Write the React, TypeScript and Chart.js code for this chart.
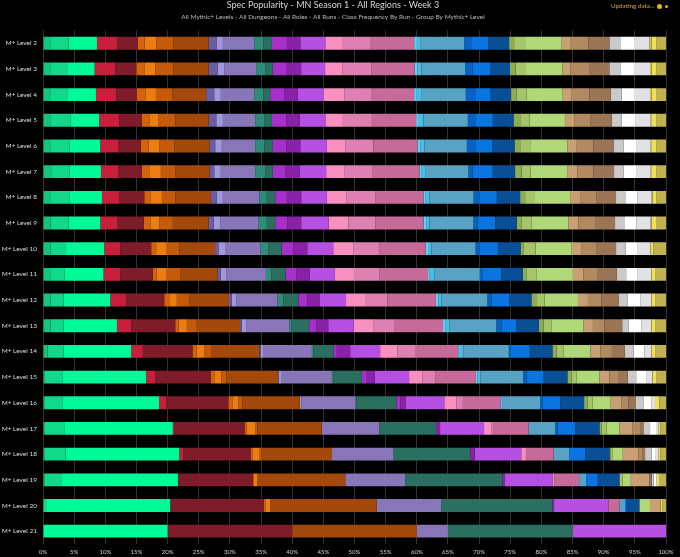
import React, { useEffect, useRef } from "react";
import { Chart, registerables } from "chart.js";

Chart.register(...registerables);

const levels = [
  "M+ Level 2", "M+ Level 3", "M+ Level 4", "M+ Level 5", "M+ Level 6",
  "M+ Level 7", "M+ Level 8", "M+ Level 9", "M+ Level 10", "M+ Level 11",
  "M+ Level 12", "M+ Level 13", "M+ Level 14", "M+ Level 15", "M+ Level 16",
  "M+ Level 17", "M+ Level 18", "M+ Level 19", "M+ Level 20", "M+ Level 21",
];

const titleText = "Spec Popularity - MN Season 1 - All Regions - Week 3";
const subtitleText =
  "All Mythic+ Levels - All Dungeons - All Roles - All Runs - Class Frequency By Run - Group By Mythic+ Level";

// Monk
const monkA = [1.28, 1.28, 1.28, 1.28, 1.28, 1.44, 1.28, 1.18, 1.18, 1.28, 1.18, 1.18, 0.75, 0.2, 0.2, 0.2, 0.2, 0.2, 0, 0];
const monkB = [2.83, 2.73, 2.73, 3.1, 2.94, 2.78, 2.94, 2.94, 2.51, 2.14, 2.14, 2.14, 2.57, 3.0, 3.0, 3.2, 3.4, 2.85, 0.64, 0];
const monkC = [4.55, 4.28, 4.49, 4.65, 4.97, 5.08, 5.24, 5.08, 6.15, 6.31, 7.49, 8.56, 10.86, 13.37, 15.45, 17.43, 18.29, 18.61, 19.79, 20];
// Death Knight
const dkA = [3.21, 3.32, 3.26, 3.21, 2.94, 2.83, 2.83, 2.78, 2.57, 2.67, 2.51, 2.3, 1.87, 1.44, 1.12, 0.21, 0.59, 0, 0, 0];
const dkB = [3.37, 3.37, 3.32, 3.64, 3.58, 3.74, 3.96, 4.17, 4.97, 5.24, 6.15, 7.06, 7.97, 8.93, 10.0, 11.28, 10.91, 11.98, 14.97, 20];
// Druid
const druidA = [1.07, 1.28, 1.34, 1.18, 1.23, 1.18, 0.96, 1.07, 0.8, 0.64, 0.8, 0.53, 0.7, 0.7, 0.64, 0.37, 0.3, 0.2, 0.37, 0];
const druidB = [1.87, 1.76, 1.71, 1.5, 1.71, 1.87, 1.87, 1.44, 1.71, 1.6, 1.23, 1.34, 1.18, 1.07, 0.96, 1.34, 1.1, 0.59, 0.7, 0];
const druidC = [2.78, 2.94, 2.67, 2.67, 2.41, 2.3, 2.14, 2.19, 2.03, 2.14, 1.98, 1.6, 1.23, 0.8, 0.64, 0.37, 0.27, 0, 0, 0];
const druidD = [5.61, 5.61, 5.4, 5.35, 5.67, 5.51, 5.72, 5.72, 5.72, 5.99, 6.42, 6.95, 7.65, 8.29, 9.25, 10.32, 11.34, 14.08, 17.11, 20];
// Warlock
const lockA = [1.34, 1.44, 1.28, 1.23, 0.91, 0.75, 0.96, 0.8, 0.53, 0.53, 0.43, 0.27, 0.2, 0.1, 0, 0, 0, 0, 0, 0];
const lockB = [0.96, 1.07, 1.07, 1.07, 1.07, 1.07, 0.96, 1.07, 1.07, 0.96, 0.7, 0.8, 0.5, 0.37, 0.27, 0, 0, 0, 0, 0];
const lockC = [5.03, 5.13, 5.35, 5.19, 5.35, 5.51, 5.88, 6.15, 5.72, 6.31, 6.63, 6.84, 7.75, 8.18, 8.72, 9.25, 9.89, 9.63, 10.32, 5];
// Evoker
const evokerA = [1.5, 1.44, 1.5, 1.5, 1.5, 1.6, 1.18, 1.34, 1.23, 0.91, 0.96, 0.37, 0.27, 0.27, 0.1, 0, 0, 0, 0, 0];
const evokerB = [1.34, 1.23, 1.07, 1.18, 1.34, 1.23, 1.34, 1.34, 2.14, 2.25, 2.41, 2.83, 3.21, 4.55, 6.42, 9.09, 12.3, 15.61, 17.86, 20];
// Demon Hunter
const dhA = [2.41, 2.25, 2.25, 2.3, 2.14, 1.98, 1.87, 1.98, 1.87, 1.76, 1.44, 1.18, 0.53, 0.8, 0.64, 0, 0, 0, 0, 0];
const dhB = [2.14, 2.3, 2.19, 2.14, 2.25, 2.3, 2.3, 2.19, 2.25, 2.14, 1.93, 1.87, 2.14, 1.23, 0.91, 0.64, 0.7, 0.32, 0.27, 0];
const dhC = [4.01, 3.85, 4.12, 4.12, 4.28, 4.28, 4.12, 4.39, 4.17, 4.01, 4.28, 4.12, 4.81, 5.56, 6.15, 7.06, 7.49, 7.7, 8.72, 15];
// Paladin
const palA = [2.83, 2.83, 3.32, 2.83, 2.94, 2.89, 3.1, 3.21, 3.21, 3.21, 3.05, 3.21, 2.78, 2.19, 1.93, 1.23, 0.75, 0.32, 0, 0];
const palB = [4.49, 4.65, 4.44, 4.65, 4.55, 4.6, 4.65, 4.28, 4.17, 3.9, 3.58, 3.37, 2.83, 2.09, 1.07, 0.2, 0, 0, 0, 0];
const palC = [6.95, 6.9, 6.79, 7.11, 7.06, 7.49, 7.75, 7.75, 7.49, 7.86, 7.81, 7.75, 6.95, 6.47, 6.1, 5.7, 4.44, 3.96, 1.76, 0];
// Mage
const mageA = [0.43, 0.43, 0.32, 0.43, 0.43, 0.27, 0.27, 0.43, 0.37, 0.27, 0.37, 0.43, 0.27, 0.27, 0, 0, 0, 0, 0, 0];
const mageB = [0.64, 0.64, 0.8, 0.75, 0.7, 0.64, 0.7, 0.53, 0.53, 0.8, 0.53, 0.64, 0.53, 0.48, 0.32, 0, 0, 0, 0, 0];
const mageC = [6.95, 7.01, 7.17, 7.11, 6.79, 6.95, 7.06, 7.06, 7.11, 7.22, 7.38, 7.49, 7.33, 6.84, 5.99, 4.28, 2.51, 1.12, 0.91, 0];
// Shaman
const shamA = [1.12, 1.23, 1.5, 1.18, 1.34, 0.7, 0.96, 0.7, 0.64, 0.53, 0.64, 0.8, 0.32, 0.53, 0.43, 0.37, 0, 0, 0, 0];
const shamB = [2.78, 2.78, 2.51, 2.83, 2.78, 3.21, 2.78, 2.78, 2.94, 2.94, 2.83, 2.41, 3.05, 2.78, 2.78, 2.83, 2.57, 1.87, 0.27, 0];
const shamC = [3.32, 3.21, 3.26, 3.32, 3.53, 3.58, 3.74, 3.48, 3.64, 3.48, 3.58, 3.64, 3.64, 3.8, 3.85, 3.9, 3.9, 3.48, 2.03, 0];
// Hunter
const huntA = [0.8, 0.91, 0.91, 1.07, 0.91, 1.07, 0.8, 0.8, 0.53, 0.64, 0.91, 0.75, 0.64, 0.64, 0.53, 0.37, 0.2, 0, 0, 0];
const huntB = [1.76, 1.66, 1.6, 1.5, 1.6, 1.44, 1.44, 1.6, 1.87, 1.5, 1.23, 1.23, 1.18, 0.8, 0.86, 0.8, 0.33, 0.53, 0, 0];
const huntC = [5.88, 5.83, 5.78, 5.72, 5.99, 5.94, 5.78, 5.88, 5.83, 5.88, 5.35, 5.19, 4.28, 3.74, 2.89, 2.03, 1.6, 1.18, 1.71, 0];
// Warrior
const warA = [1.34, 1.34, 1.34, 1.44, 1.5, 1.55, 1.6, 1.6, 1.5, 1.71, 1.6, 1.5, 1.6, 1.6, 1.76, 2.14, 2.5, 3.1, 1.71, 0];
const warB = [2.94, 2.94, 2.94, 2.67, 2.67, 2.57, 2.67, 2.67, 2.41, 2.3, 2.14, 1.87, 1.87, 1.5, 1.07, 1.18, 0.6, 0, 0, 0];
const warC = [3.37, 3.26, 3.42, 3.37, 3.21, 3.32, 3.1, 3.21, 3.21, 3.05, 2.83, 2.83, 2.03, 1.44, 1.23, 0.53, 0.48, 0.37, 0, 0];
// Priest
const priestA = [1.87, 1.87, 1.76, 1.6, 1.6, 1.5, 1.6, 1.6, 1.5, 1.5, 1.44, 1.07, 1.44, 1.34, 1.18, 1.07, 1.07, 0.3, 0, 0];
const priestB = [2.09, 2.09, 1.98, 2.14, 2.03, 2.03, 1.87, 1.87, 1.87, 1.87, 1.98, 1.98, 1.76, 1.71, 1.34, 0.96, 0.53, 0.5, 0, 0];
const priestC = [2.46, 2.57, 2.57, 2.51, 2.35, 2.35, 2.25, 2.25, 2.09, 2.14, 1.76, 1.6, 1.07, 0.86, 0.53, 0.37, 0.53, 0, 0, 0];
// Rogue
const rogueA = [0.37, 0.27, 0.27, 0.21, 0.21, 0.21, 0.16, 0.16, 0.1, 0.1, 0.1, 0.1, 0.1, 0.1, 0, 0, 0, 0, 0, 0];
const rogueB = [0.8, 0.8, 0.7, 0.75, 0.75, 0.75, 0.64, 0.7, 0.43, 0.53, 0.53, 0.53, 0.53, 0.53, 0.7, 0.3, 0.3, 0.5, 0.3, 0];
const rogueC = [1.5, 1.5, 1.6, 1.5, 1.5, 1.5, 1.5, 1.6, 2.03, 1.76, 1.76, 1.76, 1.76, 1.6, 1.07, 0.93, 0.93, 1.0, 0.56, 0];

const specSeries: [string, string, number[]][] = [
  ["Brewmaster", "#12c47d", monkA],
  ["Mistweaver", "#12d88c", monkB],
  ["Windwalker", "#00fa98", monkC],
  ["Frost DK", "#c8203c", dkA],
  ["Blood", "#7e1c2a", dkB],
  ["Balance", "#d2640e", druidA],
  ["Feral", "#ec7d12", druidB],
  ["Restoration Druid", "#c45a0c", druidC],
  ["Guardian", "#a2490b", druidD],
  ["Affliction", "#6b5ea0", lockA],
  ["Demonology", "#a097dc", lockB],
  ["Destruction", "#8777b8", lockC],
  ["Devastation", "#2f8c78", evokerA],
  ["Augmentation", "#2a6f60", evokerB],
  ["Havoc", "#a72fca", dhA],
  ["Devourer", "#8a22a8", dhB],
  ["Vengeance", "#b650e3", dhC],
  ["Retribution", "#f78fbf", palA],
  ["Holy Paladin", "#df80b2", palB],
  ["Protection Paladin", "#c66a9a", palC],
  ["Arcane", "#64d2f4", mageA],
  ["Fire", "#48bde6", mageB],
  ["Frost Mage", "#58a3c4", mageC],
  ["Elemental", "#0862c2", shamA],
  ["Enhancement", "#0a74df", shamB],
  ["Restoration Shaman", "#0a4e96", shamC],
  ["Survival", "#8eac52", huntA],
  ["Marksmanship", "#a6c46c", huntB],
  ["Beast Mastery", "#b0d878", huntC],
  ["Arms", "#c9a074", warA],
  ["Fury", "#b28a62", warB],
  ["Protection Warrior", "#9b7656", warC],
  ["Shadow", "#cacaca", priestA],
  ["Holy Priest", "#ffffff", priestB],
  ["Discipline", "#e2e2e6", priestC],
  ["Assassination", "#d2c44a", rogueA],
  ["Subtlety", "#ece05c", rogueB],
  ["Outlaw", "#c0b252", rogueC],
];

const FONT = "Lato, 'Open Sans', sans-serif";

export default function App() {
  const canvasRef = useRef<HTMLCanvasElement | null>(null);

  useEffect(() => {
    document.body.style.margin = "0";
    document.body.style.background = "#000";
    const canvas = canvasRef.current;
    if (!canvas) return;

    const totals = levels.map((_, i) =>
      specSeries.reduce((s, [, , arr]) => s + arr[i], 0)
    );

    const chart = new Chart(canvas, {
      type: "bar",
      data: {
        labels: levels,
        datasets: specSeries.map(([label, color, arr]) => ({
          label,
          data: arr.map((v, i) => (v / totals[i]) * 100),
          backgroundColor: color,
          borderWidth: 0,
          categoryPercentage: 1,
          barPercentage: 0.5,
        })),
      },
      options: {
        indexAxis: "y",
        responsive: false,
        animation: false,
        devicePixelRatio: 1,
        layout: { padding: { top: 0, right: 14, bottom: 0, left: 0 } },
        plugins: {
          legend: { display: false },
          tooltip: { enabled: false },
          title: {
            display: true,
            text: titleText,
            color: "#d6d6d6",
            font: { family: FONT, size: 9, weight: "normal" },
            padding: { top: 0, bottom: 2 },
          },
          subtitle: {
            display: true,
            text: subtitleText,
            color: "#bcbcbc",
            font: { family: FONT, size: 6.5, weight: "normal" },
            padding: { top: 0, bottom: 9.8 },
          },
        },
        scales: {
          x: {
            stacked: true,
            min: 0,
            max: 100,
            border: { display: false },
            grid: { color: "rgba(255,255,255,0.2)", drawTicks: false, lineWidth: 1 },
            ticks: {
              stepSize: 5,
              color: "#cfcfcf",
              padding: 4,
              maxRotation: 0,
              autoSkip: false,
              font: { family: FONT, size: 6 },
              callback: (v: any) => v + "%",
            },
            afterFit: (scale: any) => {
              scale.height = 13;
              scale.paddingLeft = 0;
              scale.paddingRight = 0;
            },
          },
          y: {
            stacked: true,
            border: { display: false },
            grid: { display: false, drawTicks: false },
            ticks: {
              color: "#dcdcdc",
              padding: 6,
              autoSkip: false,
              font: { family: FONT, size: 6.5 },
            },
            afterFit: (scale: any) => {
              scale.width = 43;
              scale.paddingTop = 0;
              scale.paddingBottom = 0;
            },
          },
        },
      },
    });

    return () => chart.destroy();
  }, []);

  return (
    <div style={{ position: "relative", width: 680, height: 557, background: "#000", overflow: "hidden" }}>
      <canvas ref={canvasRef} width={680} height={557} style={{ display: "block" }} />
      <div
        style={{
          position: "absolute",
          top: 1,
          left: 611,
          fontFamily: FONT,
          fontSize: 6.3,
          lineHeight: "10px",
          color: "#dca43c",
          whiteSpace: "nowrap",
          display: "flex",
          alignItems: "center",
        }}
      >
        <span>Updating data...</span>
        <span style={{ display: "inline-block", width: 5, height: 5, borderRadius: "50%", background: "#f2b01e", marginLeft: 3 }} />
        <span style={{ display: "inline-block", width: 3, height: 3, borderRadius: "50%", background: "#f2b01e", marginLeft: 2.5 }} />
      </div>
    </div>
  );
}
